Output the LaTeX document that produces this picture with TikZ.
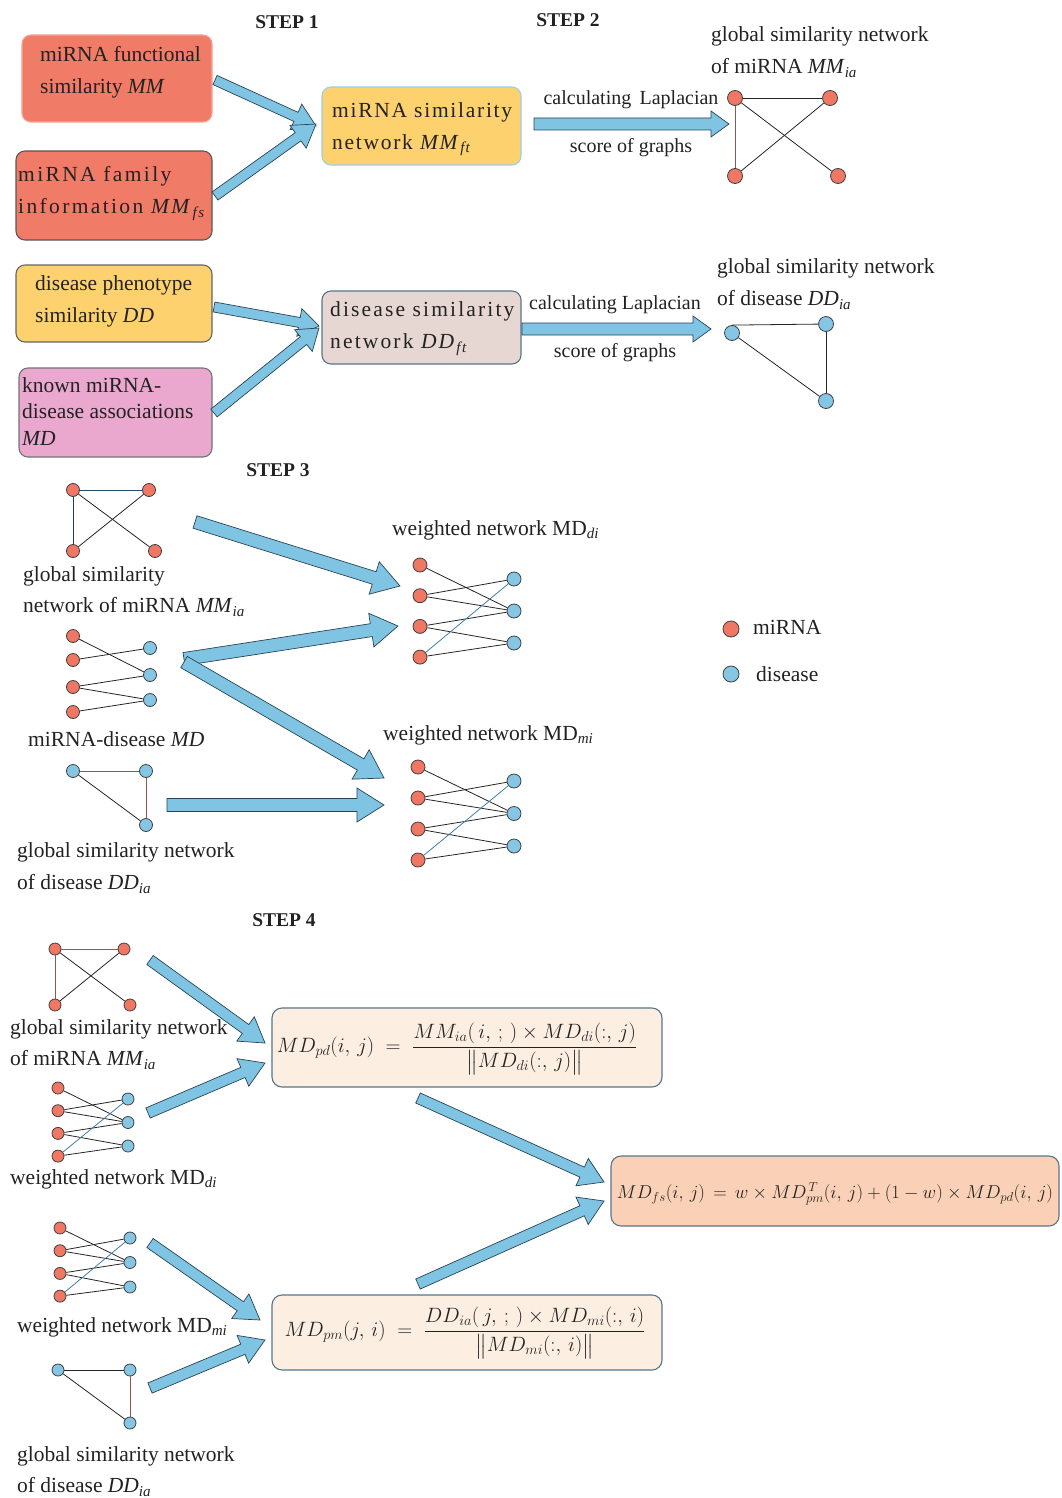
\documentclass[tikz,border=0pt]{standalone}
\usepackage{amsmath}
\usepackage{graphicx}
\usepackage{fontspec}
\setmainfont{Liberation Serif}
\usetikzlibrary{calc}
\definecolor{mred}{HTML}{F07B67}
\definecolor{myel}{HTML}{FDD26E}
\definecolor{mpink}{HTML}{EBA8CF}
\definecolor{mtaupe}{HTML}{E6D7D3}
\definecolor{fpeach}{HTML}{FDEEE2}
\definecolor{fpeach2}{HTML}{FAD1B6}
\definecolor{fborder}{HTML}{56758A}
\definecolor{afill}{HTML}{7FC4E3}
\definecolor{aline}{HTML}{2B4455}
\definecolor{nred}{HTML}{EF7763}
\definecolor{nblue}{HTML}{85C6E4}
\definecolor{ebrown}{HTML}{8A5A4A}
\definecolor{eblue}{HTML}{3F7FA8}
\definecolor{txt}{HTML}{222222}
\newcommand\sub[1]{\textsubscript{\textit{#1}}}
\newcommand\ls[2]{{\addfontfeature{LetterSpace=#1}#2}}
% block arrow: from, to, half shaft, half head, head length
\newcommand\barrow[5]{%
  \path ($(#2)!#5pt!(#1)$) coordinate (bneck);
  \draw[blockarrow] ($(#1)!#3pt!90:(#2)$) -- ($(bneck)!#3pt!90:(#2)$) -- ($(bneck)!#4pt!90:(#2)$) -- (#2) -- ($(bneck)!#4pt!-90:(#2)$) -- ($(bneck)!#3pt!-90:(#2)$) -- ($(#1)!#3pt!-90:(#2)$) -- cycle;}
% weighted bipartite network
\newcommand\wnet[7]{%
  \foreach \k in {1,...,4} \node[rn] (#1r\k) at (#2,{#3+(\k-1)*#4}) {};
  \foreach \k in {1,...,3} \node[bn] (#1b\k) at (#5,{#6+(\k-1)*#7}) {};
  \draw[edge] (#1r1) -- (#1b2); \draw[edge] (#1r2) -- (#1b1); \draw[edge] (#1r2) -- (#1b2);
  \draw[edge] (#1r3) -- (#1b2); \draw[edge] (#1r3) -- (#1b3);
  \draw[edge,eblue] (#1r4) -- (#1b1); \draw[edge] (#1r4) -- (#1b3);}
\begin{document}
\begin{tikzpicture}[x=1pt,y=-1pt,
  every node/.style={text=txt},
  font=\fontsize{21.5}{32}\selectfont,
  box/.style={draw, rounded corners=9pt, line width=1.1pt, inner sep=0pt},
  btxt/.style={anchor=west, inner sep=0pt, align=left},
  fbox/.style={draw=fborder, rounded corners=10pt, line width=1.1pt, fill=fpeach, inner sep=0pt},
  ftxt/.style={inner sep=0pt, font=\fontsize{20.5}{24}\selectfont},
  steplbl/.style={font=\fontsize{19.5}{22}\selectfont\bfseries},
  lbl/.style={anchor=west, inner sep=0pt},
  arrlbl/.style={font=\fontsize{20}{24}\selectfont},
  blockarrow/.style={fill=afill, draw=aline, line width=0.7pt, line join=miter},
  rn/.style={circle, fill=nred, draw=black!75, line width=0.8pt, minimum size=14pt, inner sep=0pt},
  bn/.style={circle, fill=nblue, draw=black!75, line width=0.8pt, minimum size=14pt, inner sep=0pt},
  edge/.style={draw=black!85, line width=0.8pt},
  bedge/.style={draw=ebrown, line width=1pt}]
\useasboundingbox[fill=white] (0,0) rectangle (1061,1498);

% ---------- step labels
\node[steplbl] (s1) at (287,22) {STEP 1};
\node[steplbl] (s2) at (568,20) {STEP 2};
\node[steplbl] (s3) at (278,470) {STEP 3};
\node[steplbl] (s4) at (284,920) {STEP 4};

% ---------- STEP 1 boxes
\node[box, fill=mred, draw=mred!70!white, minimum width=190pt, minimum height=87pt] (b1) at (117,78.5) {};
\node[btxt] (b1t) at (40,72) {miRNA functional\\similarity \textit{MM}};
\node[box, fill=mred, draw=black!65, minimum width=196pt, minimum height=89pt] (b2) at (114,195.5) {};
\node[btxt] (b2t) at (18,193.5) {\ls{11}{miRNA family}\\\ls{11}{information \textit{MM}\sub{fs}}};
\node[box, fill=myel, draw=afill!80!white, minimum width=199pt, minimum height=78pt] (b3) at (421.5,126) {};
\node[btxt] (b3t) at (332,129) {\ls{8}{miRNA similarity}\\\ls{8}{network \textit{MM}\sub{ft}}};
\node[box, fill=myel, draw=black!60, minimum width=196pt, minimum height=77pt] (b4) at (114,303.5) {};
\node[btxt] (b4t) at (35,301) {disease phenotype\\similarity \textit{DD}};
\node[box, fill=mpink, draw=black!55, minimum width=193pt, minimum height=89pt] (b5) at (115.5,412.5) {};
\node[btxt, font=\fontsize{21.5}{26.5}\selectfont] (b5t) at (22,411.5) {known miRNA-\\disease associations\\\textit{MD}};
\node[box, fill=mtaupe, draw=fborder, minimum width=199pt, minimum height=73pt] (b6) at (421.5,327.5) {};
\node[btxt] (b6t) at (330,328.5) {\ls{10}{disease similarity}\\\ls{10}{network \textit{DD}\sub{ft}}};

\coordinate (a1s) at (215,80);  \coordinate (a1e) at (316,126);
\coordinate (a2s) at (215,196); \coordinate (a2e) at (316,124);
\coordinate (a3s) at (214,307); \coordinate (a3e) at (319,326);
\coordinate (a4s) at (214,413); \coordinate (a4e) at (319,328);
\barrow{a1s}{a1e}{5}{14}{22}
\barrow{a2s}{a2e}{5}{14}{22}
\barrow{a3s}{a3e}{5}{14}{20}
\barrow{a4s}{a4e}{5}{14}{20}

% ---------- STEP 2
\coordinate (c1s) at (534,124); \coordinate (c1e) at (729,124);
\coordinate (c2s) at (522,329); \coordinate (c2e) at (711,329);
\barrow{c1s}{c1e}{6}{13}{18}
\barrow{c2s}{c2e}{6}{13}{18}
\node[arrlbl] (cl1) at (631,100) {calculating\, Laplacian};
\node[arrlbl] (sg1) at (631,148) {score of graphs};
\node[arrlbl] (cl2) at (615,305) {calculating Laplacian};
\node[arrlbl] (sg2) at (615,353) {score of graphs};

\node[lbl] (t1) at (711,36) {global similarity network};
\node[lbl] (t2) at (711,68) {of miRNA \textit{MM}\sub{ia}};
\node[rn, minimum size=15pt] (g1a) at (735,98) {};
\node[rn, minimum size=15pt] (g1b) at (830,98) {};
\node[rn, minimum size=15pt] (g1c) at (735,176) {};
\node[rn, minimum size=15pt] (g1d) at (838,176) {};
\draw[edge] (g1a) -- (g1b);
\draw[bedge] (g1a) -- (g1c);
\draw[edge] (g1a) -- (g1d);
\draw[edge] (g1b) -- (g1c);

\node[lbl] (t3) at (717,268) {global similarity network};
\node[lbl] (t4) at (717,300) {of disease \textit{DD}\sub{ia}};
\node[bn, minimum size=15pt] (d1a) at (732,333) {};
\node[bn, minimum size=15pt] (d1b) at (826,324) {};
\node[bn, minimum size=15pt] (d1c) at (826,401) {};
\draw[edge] (d1a.north) -- (d1b);
\draw[edge] (d1a) -- (d1c);
\draw[edge] (d1b) -- (d1c);

% legend
\node[rn, minimum size=16pt] (lr) at (731,629) {};
\node[lbl] (lrt) at (753,627) {miRNA};
\node[bn, minimum size=16pt] (lb) at (731,674) {};
\node[lbl] (lbt) at (756,674) {disease};

% ---------- STEP 3
\node[rn, minimum size=13pt] (m3a) at (73,490) {};
\node[rn, minimum size=13pt] (m3b) at (149,490) {};
\node[rn, minimum size=13pt] (m3c) at (73,551) {};
\node[rn, minimum size=13pt] (m3d) at (155,551) {};
\draw[edge, draw=eblue!60!black] (m3a) -- (m3b);
\draw[edge, draw=eblue!50!black, line width=1pt] (m3a) -- (m3c);
\draw[edge] (m3a) -- (m3d);
\draw[edge] (m3b) -- (m3c);
\node[lbl] (t5) at (23,576) {global similarity};
\node[lbl] (t6) at (23,607) {network of miRNA \textit{MM}\sub{ia}};

\foreach \k/\yy in {1/636,2/660,3/687,4/712} \node[rn, minimum size=13pt] (mdr\k) at (73,\yy) {};
\foreach \k/\yy in {1/648,2/675,3/700} \node[bn, minimum size=13pt] (mdb\k) at (150,\yy) {};
\draw[edge] (mdr1) -- (mdb2);
\draw[edge] (mdr2) -- (mdb1);
\draw[edge] (mdr3) -- (mdb2);
\draw[edge] (mdr3) -- (mdb3);
\draw[edge] (mdr4) -- (mdb3);
\node[lbl] (t7) at (28,739) {miRNA-disease \textit{MD}};

\node[bn, minimum size=13pt] (d3a) at (73,771) {};
\node[bn, minimum size=13pt] (d3b) at (146,771) {};
\node[bn, minimum size=13pt] (d3c) at (146,825) {};
\draw[bedge] (d3a) -- (d3b);
\draw[edge] (d3a) -- (d3c);
\draw[bedge] (d3b) -- (d3c);
\node[lbl] (t8) at (17,852) {global similarity network};
\node[lbl] (t9) at (17,884) {of disease \textit{DD}\sub{ia}};

\node[lbl] (t10) at (392,530) {weighted network MD\sub{di}};
\wnet{wa}{420}{565}{30.7}{514}{579}{32}
\node[lbl] (t11) at (383,735) {weighted network MD\sub{mi}};
\wnet{wb}{418}{767}{31}{514}{781}{32.5}

\coordinate (e1s) at (195,522); \coordinate (e1e) at (400,586);
\coordinate (e2s) at (184,659); \coordinate (e2e) at (398,626);
\coordinate (e3s) at (184,662); \coordinate (e3e) at (384,778);
\coordinate (e4s) at (167,805); \coordinate (e4e) at (384,805);
\barrow{e1s}{e1e}{6.5}{17}{27}
\barrow{e2s}{e2e}{6.5}{17}{27}
\barrow{e3s}{e3e}{6.5}{17}{27}
\barrow{e4s}{e4e}{6.5}{17}{27}

% ---------- STEP 4
\node[rn, minimum size=12pt] (m4a) at (55,949) {};
\node[rn, minimum size=12pt] (m4b) at (124,949) {};
\node[rn, minimum size=12pt] (m4c) at (55,1005) {};
\node[rn, minimum size=12pt] (m4d) at (130,1005) {};
\draw[bedge] (m4a) -- (m4b);
\draw[bedge] (m4a) -- (m4c);
\draw[edge] (m4a) -- (m4d);
\draw[edge] (m4b) -- (m4c);
\node[lbl] (t12) at (10,1029) {global similarity network};
\node[lbl] (t13) at (10,1060) {of miRNA \textit{MM}\sub{ia}};

\begin{scope}[rn/.append style={minimum size=12pt}, bn/.append style={minimum size=12pt}]
\wnet{wc}{58}{1088}{22.7}{128}{1099}{23.5}
\wnet{wd}{60}{1228}{22.7}{130}{1238}{24.5}
\end{scope}
\node[lbl] (t14) at (10,1179) {weighted network MD\sub{di}};
\node[lbl] (t15) at (17,1327) {weighted network MD\sub{mi}};

\node[bn, minimum size=12pt] (d4a) at (58,1370) {};
\node[bn, minimum size=12pt] (d4b) at (130,1370) {};
\node[bn, minimum size=12pt] (d4c) at (130,1423) {};
\draw[edge] (d4a) -- (d4b);
\draw[edge] (d4a) -- (d4c);
\draw[bedge] (d4b) -- (d4c);
\node[lbl] (t16) at (17,1456) {global similarity network};
\node[lbl] (t17) at (17,1487) {of disease \textit{DD}\sub{ia}};

% formula boxes
\node[fbox, minimum width=390pt, minimum height=79pt] (f1) at (467,1047.5) {};
\node[ftxt] (f1t) at (457,1049)
  {$MD_{pd}(i,\,j)\;=\;\dfrac{MM_{ia}(\,i,\,;\,)\times MD_{di}(:,\,j)}{\bigl\|MD_{di}(:,\,j)\bigr\|}$};
\node[fbox, minimum width=390pt, minimum height=75pt] (f2) at (467,1332.5) {};
\node[ftxt] (f2t) at (465,1333)
  {$MD_{pm}(j,\,i)\;=\;\dfrac{DD_{ia}(\,j,\,;\,)\times MD_{mi}(:,\,i)}{\bigl\|MD_{mi}(:,\,i)\bigr\|}$};
\node[fbox, fill=fpeach2, minimum width=448pt, minimum height=70pt] (f3) at (835,1191) {};
\node[ftxt, font=\fontsize{20.5}{24}\selectfont] (f3t) at (835,1194)
  {\resizebox{436pt}{!}{$MD_{fs}(i,\,j)\,=\,w\times MD_{pm}^{\,T}(i,\,j)+(1-w)\times MD_{pd}(i,\,j)$}};

\coordinate (h1s) at (150,960);  \coordinate (h1e) at (265,1043);
\coordinate (h2s) at (148,1113); \coordinate (h2e) at (265,1063);
\coordinate (h3s) at (150,1243); \coordinate (h3e) at (260,1320);
\coordinate (h4s) at (150,1388); \coordinate (h4e) at (265,1340);
\coordinate (h5s) at (418,1098); \coordinate (h5e) at (604,1182);
\coordinate (h6s) at (418,1284); \coordinate (h6e) at (604,1201);
\barrow{h1s}{h1e}{5.5}{15}{24}
\barrow{h2s}{h2e}{5.5}{15}{24}
\barrow{h3s}{h3e}{5.5}{15}{24}
\barrow{h4s}{h4e}{5.5}{15}{24}
\barrow{h5s}{h5e}{5.5}{15}{24}
\barrow{h6s}{h6e}{5.5}{15}{24}
\end{tikzpicture}
\end{document}
